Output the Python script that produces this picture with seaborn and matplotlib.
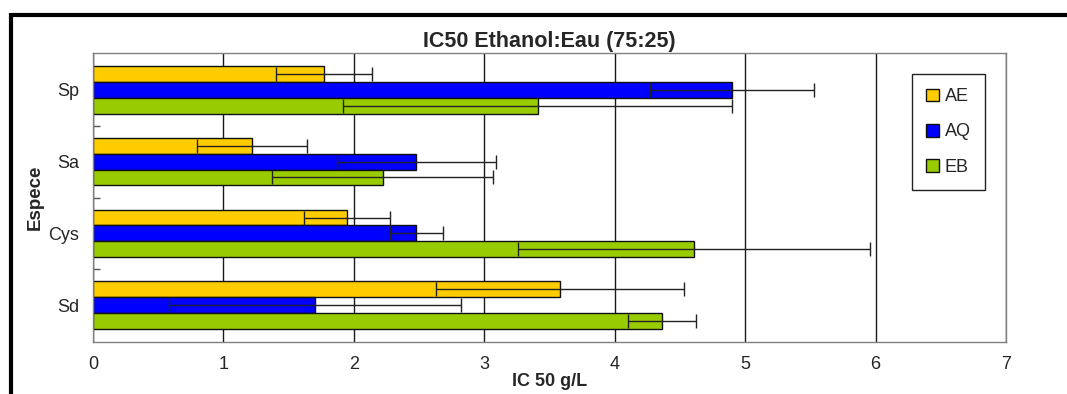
# plot.py

import seaborn as sns
import matplotlib.pyplot as plt
import pandas as pd
from matplotlib.lines import Line2D

sns.set_style("white")
plt.rcParams['font.family'] = ['Liberation Sans', 'DejaVu Sans']

# Values (IC50, g/L) and their error bars
species = ["Sp", "Sa", "Cys", "Sd"]
extracts = ["AE", "AQ", "EB"]
ae = [1.77, 1.22, 1.95, 3.58]
aq = [4.90, 2.48, 2.48, 1.70]
eb = [3.41, 2.22, 4.61, 4.36]
ae_err = [0.37, 0.42, 0.33, 0.95]
aq_err = [0.63, 0.61, 0.20, 1.12]
eb_err = [1.49, 0.85, 1.35, 0.26]
colors = ["#FFCC00", "#0000FF", "#99CC00"]

df = pd.DataFrame({
    "Espece": species * 3,
    "Extrait": [e for e in extracts for _ in species],
    "IC50": ae + aq + eb,
})

fig = plt.figure(figsize=(10.67, 3.94), dpi=100)
ax = fig.add_axes([93 / 1067, 1 - 342 / 394, 913 / 1067, 289 / 394])

sns.barplot(data=df, x="IC50", y="Espece", hue="Extrait", order=species,
            hue_order=extracts, palette=colors, saturation=1, orient="h",
            width=0.66, edgecolor="#111111", linewidth=1, errorbar=None,
            ax=ax, zorder=2)

# explicit error bars on each bar
for cont, errs in zip(ax.containers, [ae_err, aq_err, eb_err]):
    for bar, e in zip(cont, errs):
        yc = bar.get_y() + bar.get_height() / 2
        ax.errorbar(bar.get_width(), yc, xerr=e, fmt="none", ecolor="#222222",
                    elinewidth=1, capsize=5, capthick=1, zorder=3)

ax.set_xlim(0, 7)
ax.set_xticks(range(0, 8))
ax.grid(axis="x", color="#1a1a1a", linewidth=1, zorder=0)
ax.set_axisbelow(True)
for s in ax.spines.values():
    s.set_color("#808080")
    s.set_linewidth(1)

ax.tick_params(axis="x", length=0, pad=10, labelsize=13)
ax.tick_params(axis="y", which="major", length=0, pad=10, labelsize=13)
ax.set_yticks([0.5, 1.5, 2.5], minor=True)
ax.tick_params(axis="y", which="minor", left=True, length=5, width=1,
               direction="in", color="#555555")

ax.set_title("IC50 Ethanol:Eau (75:25)", fontsize=15.5, fontweight="bold", pad=4)
ax.set_xlabel("IC 50 g/L", fontsize=13, fontweight="bold", labelpad=0)
ax.set_ylabel("Espece", fontsize=13.5, fontweight="bold", labelpad=3)

handles, labels = ax.get_legend_handles_labels()
ax.legend(handles, labels, loc="upper left", bbox_to_anchor=(912 / 1067, 1 - 74 / 394),
          bbox_transform=fig.transFigure, fontsize=13, frameon=True, fancybox=False,
          edgecolor="#222222", framealpha=1, handlelength=0.7, handleheight=0.7,
          handletextpad=0.3, labelspacing=1.0, borderpad=0.8, borderaxespad=0)
ax.get_legend().get_frame().set_linewidth(1)

# outer black frame (top and left)
fig.add_artist(Line2D([11 / 1067, 1], [1 - 14.5 / 394] * 2, color="black",
                      linewidth=3, solid_capstyle="butt"))
fig.add_artist(Line2D([11 / 1067] * 2, [0, 1 - 13 / 394], color="black",
                      linewidth=3, solid_capstyle="butt"))

plt.savefig("out.png", dpi=100)
plt.close()
